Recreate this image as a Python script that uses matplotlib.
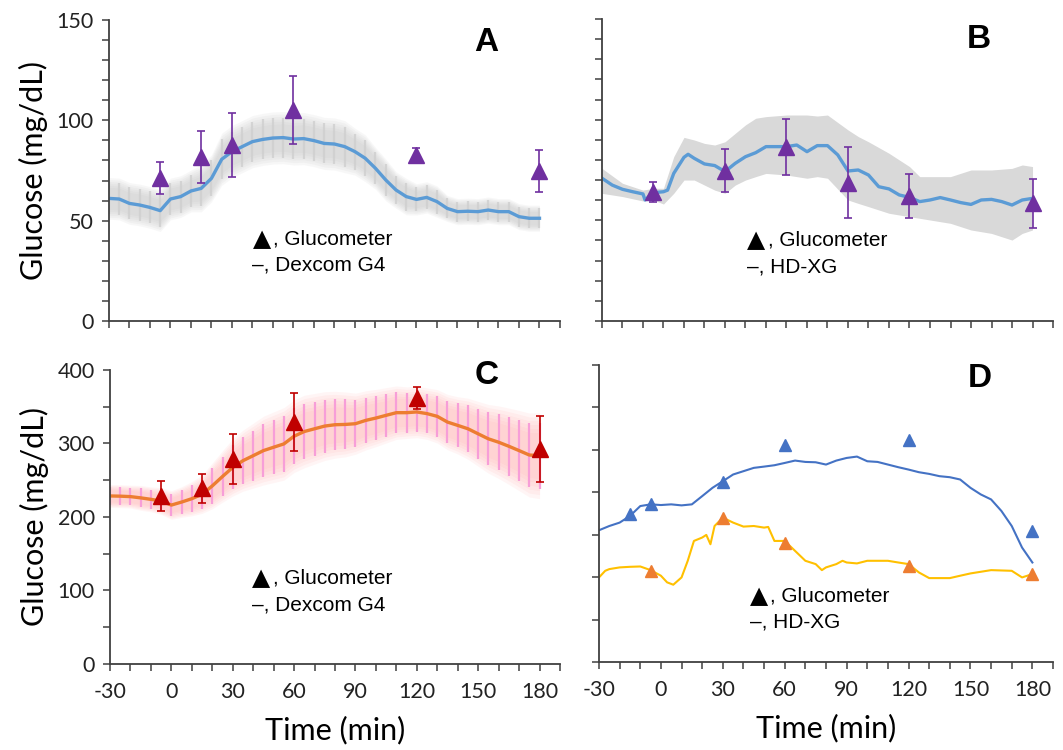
import numpy as np
import matplotlib
matplotlib.use('Agg')
import matplotlib.pyplot as plt
from matplotlib.ticker import MultipleLocator

plt.rcParams['axes.unicode_minus'] = False

# Panel A / C: Dexcom G4 readings every 5 min
t_cgm = np.arange(-30, 185, 5)
dexcom_a = [61.1, 60.8, 58.6, 57.8, 56.6, 55.0, 60.8, 62.0, 64.8, 66.1, 71.1, 80.6, 84.4,
            86.9, 89.4, 90.5, 91.2, 91.4, 90.7, 90.9, 89.9, 88.5, 88.2, 86.9, 84.4, 81.1,
            76.1, 70.3, 65.3, 62.0, 60.6, 61.6, 59.5, 56.1, 54.5, 54.7, 54.5, 55.3, 54.5,
            54.5, 52.0, 51.2, 51.2]
dexcom_a_sd = [8, 8, 8, 8, 8, 8, 8, 8, 8, 9, 9, 10, 10, 10, 10, 10, 10, 10, 10, 10, 10, 10,
               10, 10, 9, 9, 8, 8, 7, 7, 6, 6, 6, 5, 5, 5, 5, 5, 5, 5, 5, 5, 5]
dexcom_c = [228.6, 228.3, 227.7, 226.0, 224.0, 221.7, 216.2, 220.3, 224.9, 230.9, 242.3,
            255.1, 267.4, 276.6, 283.4, 290.3, 294.9, 299.4, 309.9, 316.3, 320.0, 323.7,
            325.5, 325.9, 326.9, 331.4, 334.6, 338.3, 341.9, 341.9, 342.9, 340.6, 336.9,
            329.1, 324.6, 320.0, 313.1, 306.3, 301.7, 296.2, 290.3, 284.3, 283.4]
dexcom_c_sd = [12, 12, 12, 13, 13, 14, 15, 16, 18, 20, 24, 27, 30, 32, 34, 36, 37, 38, 38,
               38, 37, 36, 35, 34, 32, 31, 30, 29, 28, 27, 27, 27, 28, 29, 30, 32, 34, 36,
               38, 40, 42, 44, 45]

# glucometer, panels A and C
t_gm_a = [-5, 15, 30, 60, 120, 180]
gm_a = [71.1, 81.6, 87.7, 105.1, 82.6, 74.8]
gm_a_err = [8, 13, 16, 17, 3.8, 10.5]
gm_c = [228.6, 239.0, 278.9, 329.1, 362.0, 292.6]
gm_c_err = [20, 20, 34, 40, 15, 45]

# Panel B: HD-XG
t_hd_b = [-30, -25, -20, -15, -10, -9, -5, 0, 2, 5, 10, 12, 15, 20, 25, 30, 35, 40, 45, 50,
          55, 60, 65, 70, 75, 80, 85, 90, 95, 100, 105, 110, 115, 120, 125, 130, 135, 140,
          145, 150, 155, 160, 165, 170, 175, 180]
hd_b = [70.9, 67.5, 65.4, 64.2, 63.1, 60.1, 63.7, 64.2, 65.0, 73.3, 81.3, 82.8, 80.8, 78.0,
        77.2, 74.2, 78.3, 81.6, 83.6, 86.6, 86.6, 86.6, 87.4, 84.1, 87.1, 87.1, 82.5, 74.5,
        75.0, 72.5, 66.7, 65.6, 62.6, 61.4, 59.3, 60.1, 61.3, 60.1, 58.8, 57.9, 60.1, 60.4,
        59.3, 57.6, 60.1, 60.9]
t_band_b = [-30, -20, -10, -5, 0, 5, 10, 15, 20, 25, 30, 35, 40, 45, 50, 60, 70, 75, 80, 90,
            95, 100, 110, 120, 125, 140, 150, 160, 170, 175, 180]
band_b_hi = [75.8, 68.4, 65.0, 65.9, 65.9, 81.6, 91.2, 89.9, 88.2, 87.4, 89.0, 93.2, 97.4,
             100.7, 101.5, 102.3, 102.3, 101.8, 102.3, 94.9, 91.6, 89.0, 83.3, 76.7, 71.7,
             71.7, 75.0, 75.0, 75.8, 77.5, 76.7]
band_b_lo = [63.4, 61.8, 59.6, 60.1, 58.1, 63.4, 70.0, 70.0, 67.5, 65.0, 63.4, 67.5, 70.0,
             71.7, 73.3, 72.5, 70.9, 71.7, 70.9, 60.1, 58.4, 56.8, 53.5, 51.8, 51.0, 48.5,
             45.2, 43.5, 40.2, 43.5, 45.2]
t_gm_b = [-5, 30, 60, 90, 120, 180]
gm_b = [64.2, 74.7, 86.3, 68.7, 62.1, 58.4]
gm_b_err = [5, 10.5, 14, 17.5, 11, 12]

# Panel D: two individual traces
t_d_blue = [-30, -25, -20, -15, -10, -5, 0, 5, 10, 15, 20, 25, 30, 35, 40, 45, 50, 55, 60,
            65, 70, 75, 80, 85, 90, 95, 100, 105, 110, 115, 120, 125, 130, 135, 140, 145,
            150, 155, 160, 165, 170, 175, 180]
d_blue = [155.3, 160.3, 164.3, 172.1, 183.8, 185.8, 185.0, 185.8, 184.6, 185.8, 195.5,
          205.3, 213.1, 221.0, 224.9, 228.8, 230.3, 231.9, 234.6, 237.4, 235.8, 235.4,
          232.7, 237.4, 240.5, 242.1, 236.6, 235.8, 232.7, 229.6, 226.8, 223.7, 221.7,
          219.0, 217.8, 215.1, 205.3, 197.5, 191.6, 178.0, 160.3, 134.9, 117.3]
t_d_yellow = [-30, -27, -25, -20, -15, -10, -5, 0, 3, 6, 10, 13, 16, 20, 22, 24, 26, 30, 35,
              40, 45, 50, 52, 55, 60, 65, 70, 75, 78, 80, 85, 88, 90, 95, 100, 110, 115,
              120, 125, 130, 140, 145, 150, 160, 170, 175, 180]
d_yellow = [99.7, 107.5, 109.5, 111.5, 112.2, 112.6, 108.3, 101.7, 93.9, 91.1, 99.7, 119.3,
            142.7, 146.7, 149.8, 138.8, 160.3, 170.1, 164.3, 159.6, 160.3, 158.4, 159.2,
            142.7, 142.7, 131.0, 119.3, 115.4, 108.3, 111.5, 115.4, 119.3, 117.3, 116.2,
            119.3, 119.3, 117.3, 115.4, 105.6, 98.9, 98.9, 101.7, 104.4, 108.3, 107.5,
            99.7, 103.6]
t_gm_d_blue = [-15, -5, 30, 60, 120, 180]
gm_d_blue = [174.8, 185.8, 212.4, 255.4, 261.2, 154.5]
t_gm_d_orange = [-5, 30, 60, 120, 180]
gm_d_orange = [107.5, 169.3, 140.8, 113.0, 103.6]

txt_font = ['Liberation Sans', 'DejaVu Sans']
num_font = 'Lato'
axis_col = '#404040'

fig = plt.figure(figsize=(10.63, 7.5), dpi=100)
axA = fig.add_axes([0.1025, 0.572, 0.4243, 0.4013])
axB = fig.add_axes([0.5663, 0.572, 0.4243, 0.4027])
axC = fig.add_axes([0.1035, 0.1147, 0.4233, 0.392])
axD = fig.add_axes([0.5635, 0.1173, 0.4271, 0.396])


def style(ax, ymax, ymaj, ymin_step, xlabels, ylabels):
    ax.set_xlim(-30, 190)
    ax.set_ylim(0, ymax)
    for s in ['top', 'right']:
        ax.spines[s].set_visible(False)
    for s in ['left', 'bottom']:
        ax.spines[s].set_color(axis_col)
        ax.spines[s].set_linewidth(1.3)
    ax.xaxis.set_major_locator(MultipleLocator(30))
    ax.xaxis.set_minor_locator(MultipleLocator(10))
    ax.yaxis.set_major_locator(MultipleLocator(ymaj))
    ax.yaxis.set_minor_locator(MultipleLocator(ymin_step))
    ax.tick_params(which='both', direction='out', length=5, width=1.1, color=axis_col,
                   labelsize=15.5, labelcolor='#222222')
    ax.tick_params(axis='x', labelbottom=xlabels, pad=8)
    ax.tick_params(axis='y', labelleft=ylabels, pad=6)
    for lab in ax.get_xticklabels() + ax.get_yticklabels():
        lab.set_family(num_font)
    if xlabels:
        ax.set_xlabel('Time (min)', fontsize=22, family=num_font, labelpad=10)
    if ylabels:
        ax.set_ylabel('Glucose (mg/dL)', fontsize=22, family=num_font, labelpad=6)


def glow_band(ax, t, y, sd, glow_col, bar_col, bar_alpha):
    t = np.asarray(t)
    y = np.asarray(y)
    sd = np.asarray(sd)
    for k in range(6):
        w = 0.7 + k * 0.12
        ax.fill_between(t, y - sd * w, y + sd * w, color=glow_col, alpha=0.12, lw=0)
    ax.vlines(t, y - sd, y + sd, color=bar_col, lw=1.6, alpha=bar_alpha)


def legend_text(ax, x, y1, y2, second):
    ax.text(x, y1, '▲', fontsize=17, family='DejaVu Sans', va='center')
    ax.annotate(', Glucometer', xy=(x, y1), xytext=(15, 0), textcoords='offset points',
                fontsize=15, family=txt_font, va='center')
    ax.text(x, y2, '–, ' + second, fontsize=15, family=txt_font, va='center')


# A
glow_band(axA, t_cgm, dexcom_a, dexcom_a_sd, '#C4C4C4', '#CFCFCF', 0.8)
axA.plot(t_cgm, dexcom_a, color='#5B9BD5', lw=2.4)
axA.errorbar(t_gm_a, gm_a, yerr=gm_a_err, fmt='^', color='#7030A0', ms=11,
             elinewidth=1.2, capsize=3, capthick=1.2)
style(axA, 150, 50, 10, False, True)
legend_text(axA, 40, 41, 28, 'Dexcom G4')
axA.text(154, 139, 'A', fontsize=24, fontweight='bold', family=txt_font, ha='center', va='center')

# B
axB.fill_between(t_band_b, band_b_lo, band_b_hi, color='#D9D9D9', lw=0)
axB.plot(t_hd_b, hd_b, color='#5B9BD5', lw=2.4)
axB.errorbar(t_gm_b, gm_b, yerr=gm_b_err, fmt='^', color='#7030A0', ms=11,
             elinewidth=1.2, capsize=3, capthick=1.2)
style(axB, 150, 50, 10, False, False)
legend_text(axB, 40.6, 40.2, 27, 'HD-XG')
axB.text(154, 140, 'B', fontsize=24, fontweight='bold', family=txt_font, ha='center', va='center')

# C
glow_band(axC, t_cgm, dexcom_c, dexcom_c_sd, '#FFB3B3', '#F79ED8', 1.0)
axC.plot(t_cgm, dexcom_c, color='#ED7D31', lw=2.4)
axC.errorbar(t_gm_a, gm_c, yerr=gm_c_err, fmt='^', color='#C00000', ms=11,
             elinewidth=1.2, capsize=3, capthick=1.2)
style(axC, 400, 100, 50, True, True)
legend_text(axC, 39.3, 116.6, 80, 'Dexcom G4')
axC.text(154, 393, 'C', fontsize=24, fontweight='bold', family=txt_font, ha='center', va='center')

# D
axD.plot(t_d_blue, d_blue, color='#4472C4', lw=1.5)
axD.plot(t_d_yellow, d_yellow, color='#FFC000', lw=1.5)
axD.plot(t_gm_d_blue, gm_d_blue, '^', color='#4472C4', ms=8)
axD.plot(t_gm_d_orange, gm_d_orange, '^', color='#ED7D31', ms=8)
style(axD, 350, 50, 50, True, False)
legend_text(axD, 43, 78.2, 46.9, 'HD-XG')
axD.text(154.5, 334.4, 'D', fontsize=24, fontweight='bold', family=txt_font, ha='center', va='center')

fig.savefig('out.png', dpi=100)
